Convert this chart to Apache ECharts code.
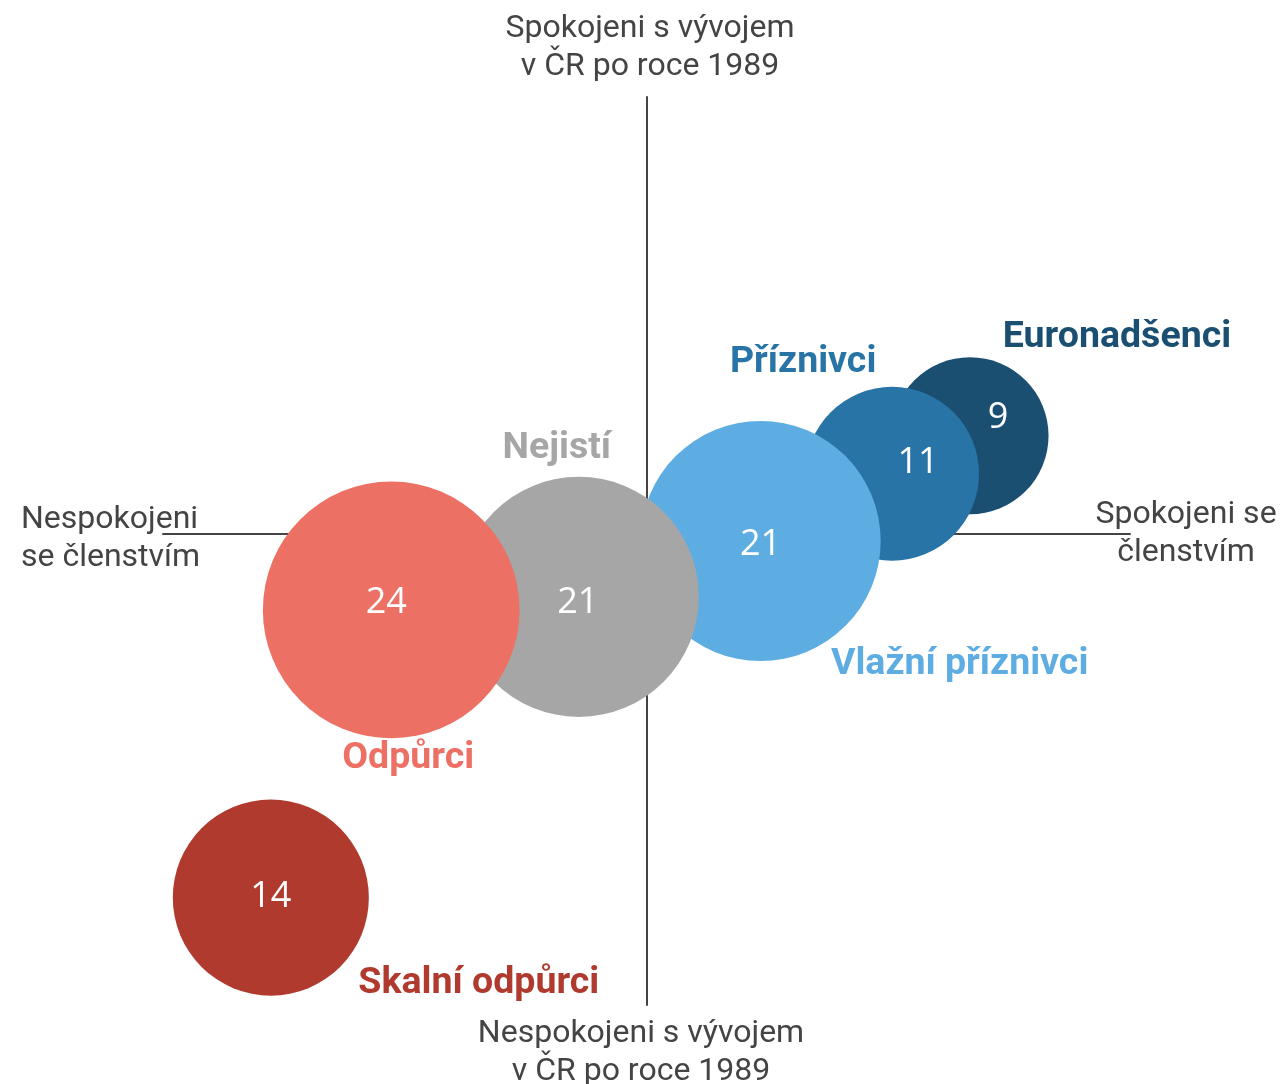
<!DOCTYPE html>
<html>
<head>
<meta charset="utf-8">
<script src="https://cdn.jsdelivr.net/npm/echarts@6/dist/echarts.min.js"></script>
<style>
  html, body { margin: 0; padding: 0; background: #fff; }
  #chart { width: 1283px; height: 1084px; }
</style>
</head>
<body>
<div id="chart"></div>
<script>
// skupiny - pořadí = pořadí vykreslení (pozdější leží nahoře)
const groups = ['Euronadšenci', 'Příznivci', 'Vlažní příznivci', 'Nejistí', 'Odpůrci', 'Skalní odpůrci']
// podíl skupiny v %
const shares = [9, 11, 21, 21, 24, 14]
// spokojenost se členstvím (osa x, -1 .. 1)
const membership = [0.669, 0.508, 0.236, -0.14, -0.528, -0.777]
// spokojenost s vývojem po roce 1989 (osa y)
const development = [0.224, 0.137, -0.017, -0.145, -0.175, -0.834]
const colors = ['#1b4f72', '#2874a6', '#5dade2', '#a6a6a6', '#ec7063', '#b03a2e']

// posun popisků vůči středu bubliny (px)
const nameOffsets = [[147, -98], [-89, -111], [199, 124], [-22, -148], [17, 149], [208, 86]]
const valueOffsets = [[28, -18], [26, -11], [0, 4], [-1, 6], [-5, -7], [0, -1]]

const axisText = '#444'
const axisFont = '32px Roboto'
const chart = echarts.init(document.getElementById('chart'))

chart.setOption({
  animation: false,
  grid: {left: 163, right: 153, top: 97, bottom: 79},
  xAxis: {
    type: 'value', min: -1, max: 1,
    axisLine: {lineStyle: {color: axisText, width: 2}},
    axisTick: {show: false}, axisLabel: {show: false}, splitLine: {show: false}
  },
  yAxis: {
    type: 'value', min: -1.08, max: 1,
    axisLine: {lineStyle: {color: axisText, width: 2}},
    axisTick: {show: false}, axisLabel: {show: false}, splitLine: {show: false}
  },
  graphic: [
    {type: 'text', x: 650, y: 48, style: {text: 'Spokojeni s vývojem\nv ČR po roce 1989', font: axisFont, fill: axisText, align: 'center', verticalAlign: 'middle', lineHeight: 38}},
    {type: 'text', x: 641, y: 1053, style: {text: 'Nespokojeni s vývojem\nv ČR po roce 1989', font: axisFont, fill: axisText, align: 'center', verticalAlign: 'middle', lineHeight: 38}},
    {type: 'text', x: 21, y: 539, style: {text: 'Nespokojeni\nse členstvím', font: axisFont, fill: axisText, align: 'left', verticalAlign: 'middle', lineHeight: 38}},
    {type: 'text', x: 1186, y: 534, style: {text: 'Spokojeni se\nčlenstvím', font: axisFont, fill: axisText, align: 'center', verticalAlign: 'middle', lineHeight: 38}}
  ],
  series: [
    {
      name: 'bubliny',
      type: 'scatter',
      z: 3,
      symbolSize: d => 52.4 * Math.sqrt(d[2]),
      data: groups.map((g, i) => ({
        name: g,
        value: [membership[i], development[i], shares[i]],
        itemStyle: {color: colors[i], opacity: 1},
        label: {offset: valueOffsets[i]}
      })),
      label: {
        show: true,
        position: 'inside',
        formatter: p => p.value[2],
        color: '#fff',
        fontSize: 36,
        fontFamily: 'Open Sans'
      },
      emphasis: {disabled: true}
    },
    {
      name: 'popisky',
      type: 'scatter',
      z: 4,
      symbolSize: 0,
      itemStyle: {opacity: 1},
      data: groups.map((g, i) => ({
        name: g,
        value: [membership[i], development[i]],
        label: {offset: nameOffsets[i], color: colors[i]}
      })),
      label: {
        show: true,
        position: 'inside',
        formatter: p => p.name,
        fontSize: 37.5,
        fontWeight: 'bold',
        fontFamily: 'Roboto',
        opacity: 1
      },
      emphasis: {disabled: true}
    }
  ]
})
</script>
</body>
</html>
